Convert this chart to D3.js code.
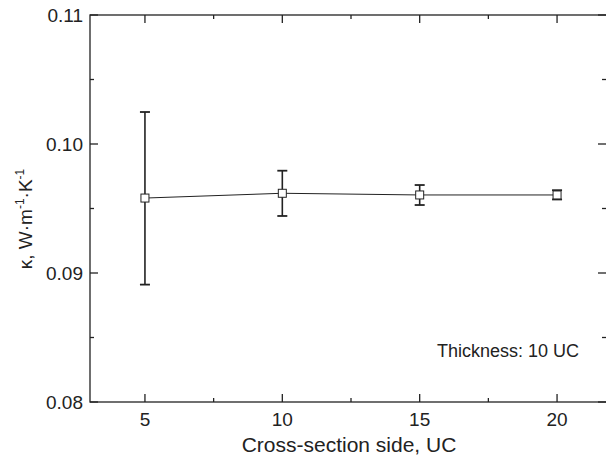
<!DOCTYPE html>
<html>
<head>
<meta charset="utf-8">
<script src="https://cdn.jsdelivr.net/npm/d3@7"></script>
<style>
  body { margin: 0; background: #fff; }
  text { font-family: "Liberation Sans", Arial, sans-serif; fill: #222; }
</style>
</head>
<body>
<div id="chart"></div>
<script>
// data
const sides = [5, 10, 15, 20];
const kappa = [0.09581, 0.09618, 0.09605, 0.09605];
const errUp = [0.10248, 0.09793, 0.09682, 0.09642];
const errDown = [0.08910, 0.09442, 0.09527, 0.09570];
const xTicks = [5, 10, 15, 20];
const yTicks = [0.08, 0.09, 0.10, 0.11];

const width = 606, height = 465;

const svg = d3.select("#chart").append("svg")
    .attr("width", width)
    .attr("height", height);

const x = d3.scaleLinear().domain([3, 22]).range([90, 612]);
const y = d3.scaleLinear().domain([0.08, 0.11]).range([402, 15]);

const stroke = "#222";

// frame (right side falls just outside the picture)
svg.append("rect")
    .attr("x", x(3)).attr("y", y(0.11))
    .attr("width", x(22) - x(3)).attr("height", y(0.08) - y(0.11))
    .attr("fill", "none").attr("stroke", stroke).attr("stroke-width", 1.3);

// ticks, all pointing inward
const xMinor = xTicks.slice(0, -1).map(v => v + 2.5);
const yMinor = yTicks.slice(0, -1).map(v => v + 0.005);

function xTick(v, len) {
    svg.append("line").attr("x1", x(v)).attr("x2", x(v))
        .attr("y1", y(0.08)).attr("y2", y(0.08) - len)
        .attr("stroke", stroke).attr("stroke-width", 1.3);
    svg.append("line").attr("x1", x(v)).attr("x2", x(v))
        .attr("y1", y(0.11)).attr("y2", y(0.11) + len)
        .attr("stroke", stroke).attr("stroke-width", 1.3);
}
function yTick(v, len) {
    svg.append("line").attr("x1", x(3)).attr("x2", x(3) + len)
        .attr("y1", y(v)).attr("y2", y(v))
        .attr("stroke", stroke).attr("stroke-width", 1.3);
    svg.append("line").attr("x1", 606).attr("x2", 606 - len)
        .attr("y1", y(v)).attr("y2", y(v))
        .attr("stroke", stroke).attr("stroke-width", 1.3);
}
xTicks.forEach(v => xTick(v, 8));
xMinor.forEach(v => xTick(v, 4));
yTicks.forEach(v => yTick(v, 8));
yMinor.forEach(v => yTick(v, 4));

// tick labels
svg.selectAll(".xlab").data(xTicks).enter().append("text")
    .attr("x", d => x(d)).attr("y", 426)
    .attr("text-anchor", "middle").attr("font-size", "19px")
    .text(d => d);
svg.selectAll(".ylab").data(yTicks).enter().append("text")
    .attr("x", 83).attr("y", d => y(d) + 7)
    .attr("text-anchor", "end").attr("font-size", "19px")
    .text(d => d.toFixed(2));

// axis titles
svg.append("text")
    .attr("x", 349).attr("y", 452)
    .attr("text-anchor", "middle").attr("font-size", "21px")
    .text("Cross-section side, UC");

const yTitle = svg.append("text")
    .attr("transform", "translate(32,219) rotate(-90)")
    .attr("text-anchor", "middle").attr("font-size", "19px");
yTitle.append("tspan").text("κ, W·m");
yTitle.append("tspan").attr("dy", -8).attr("font-size", "12px").text("-1");
yTitle.append("tspan").attr("dy", 8).text("·K");
yTitle.append("tspan").attr("dy", -8).attr("font-size", "12px").text("-1");

// annotation
svg.append("text")
    .attr("x", 437).attr("y", 357)
    .attr("font-size", "18px")
    .text("Thickness: 10 UC");

// line
const pts = sides.map((s, i) => ({ s, k: kappa[i], up: errUp[i], down: errDown[i] }));
svg.append("path")
    .datum(pts)
    .attr("d", d3.line().x(d => x(d.s)).y(d => y(d.k)))
    .attr("fill", "none").attr("stroke", stroke).attr("stroke-width", 1);

// error bars
const eb = svg.selectAll(".err").data(pts).enter().append("g");
eb.append("line")
    .attr("x1", d => x(d.s)).attr("x2", d => x(d.s))
    .attr("y1", d => y(d.up)).attr("y2", d => y(d.down))
    .attr("stroke", stroke).attr("stroke-width", 1.6);
eb.append("line")
    .attr("x1", d => x(d.s) - 5).attr("x2", d => x(d.s) + 5)
    .attr("y1", d => y(d.up)).attr("y2", d => y(d.up))
    .attr("stroke", stroke).attr("stroke-width", 1.8);
eb.append("line")
    .attr("x1", d => x(d.s) - 5).attr("x2", d => x(d.s) + 5)
    .attr("y1", d => y(d.down)).attr("y2", d => y(d.down))
    .attr("stroke", stroke).attr("stroke-width", 1.8);

// square markers
svg.selectAll(".pt").data(pts).enter().append("rect")
    .attr("x", d => x(d.s) - 4).attr("y", d => y(d.k) - 4)
    .attr("width", 8).attr("height", 8)
    .attr("fill", "#fff").attr("stroke", stroke).attr("stroke-width", 1);
</script>
</body>
</html>
